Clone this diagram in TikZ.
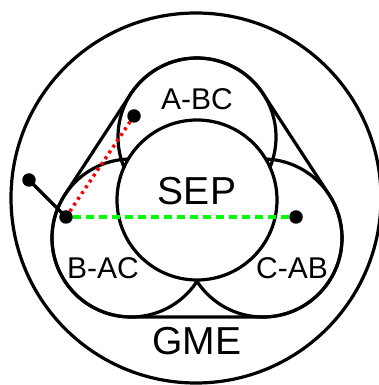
\documentclass[tikz,border=0pt]{standalone}
\usepackage{fontspec}
\setmainfont{Liberation Sans}
\begin{document}
\begin{tikzpicture}[x=1pt,y=1pt,
  ring/.style={draw=black,line width=3.2pt},
  dotnode/.style={circle,fill=black,inner sep=0pt,minimum size=13.5pt},
  lbl/.style={font=\fontsize{30}{32}\selectfont,inner sep=0pt},
  biglbl/.style={font=\fontsize{39}{42}\selectfont,inner sep=0pt}]
\useasboundingbox (0,0) rectangle (379,385);
\coordinate (O) at (196,187);
\coordinate (A) at (197,248);
\coordinate (B) at (131,147);
\coordinate (C) at (263,147);
\coordinate (S) at (197,185);
% outer circle
\draw[ring] (O) circle[radius=185];
% three circles
\draw[ring] (A) circle[radius=79];
\draw[ring] (B) circle[radius=79];
\draw[ring] (C) circle[radius=79];
% SEP circle
\draw[ring,fill=white] (S) circle[radius=80];
% hull
\draw[ring,line join=round] ([shift={(33.2:79)}]A) arc[start angle=33.2,end angle=146.8,radius=79]
  -- ([shift={(146.8:79)}]B) arc[start angle=146.8,end angle=270,radius=79]
  -- ([shift={(270:79)}]C) arc[start angle=270,end angle=393.2,radius=79] -- cycle;
% labels
\node[lbl] (abc) at (197,286) {A-BC};
\node[lbl] (bac) at (103,117) {B-AC};
\node[lbl] (cab) at (292,117) {C-AB};
\node[biglbl] (sep) at (197,194) {SEP};
\node[biglbl] (gme) at (197,44) {GME};
% dots
\node[dotnode] (d1) at (134,269) {};
\node[dotnode] (d2) at (29,205) {};
\node[dotnode] (d3) at (66,168) {};
\node[dotnode] (d4) at (296,168) {};
\draw[line width=3.2pt,black] (d2.center) -- (d3.center);
\draw[line width=3.4pt,red,dash pattern=on 3pt off 4pt] (d3) -- (d1);
\draw[line width=3.6pt,green,dash pattern=on 8pt off 5pt] (d3) -- (d4);
\end{tikzpicture}
\end{document}
